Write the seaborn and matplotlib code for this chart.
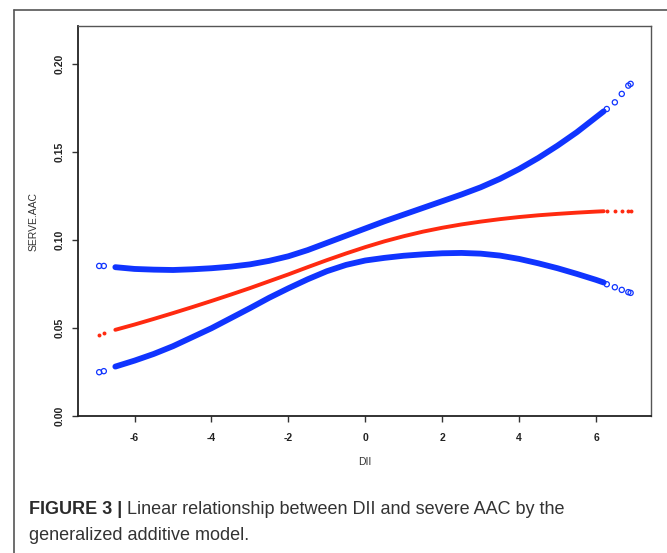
"""GAM fit of severe AAC against DII, with confidence band"""
import matplotlib
matplotlib.use("Agg")
import matplotlib.pyplot as plt
import pandas as pd
import seaborn as sns
from matplotlib.lines import Line2D

# values (dense part of the curves)
dii_band = [-6.5, -6.0, -5.5, -5.0, -4.5, -4.0, -3.5, -3.0, -2.5, -2.0, -1.5,
            -1.0, -0.5, 0.0, 0.5, 1.0, 1.5, 2.0, 2.5, 3.0, 3.5, 4.0, 4.5, 5.0,
            5.5, 6.0, 6.2]
fit_band = [0.0490, 0.0520, 0.0552, 0.0585, 0.0619, 0.0654, 0.0690, 0.0727,
            0.0766, 0.0805, 0.0846, 0.0886, 0.0924, 0.0960, 0.0993, 0.1022,
            0.1048, 0.1070, 0.1089, 0.1105, 0.1119, 0.1131, 0.1141, 0.1149,
            0.1156, 0.1162, 0.1164]
upper_band = [0.0846, 0.0836, 0.0832, 0.0830, 0.0834, 0.0840, 0.0849, 0.0862,
              0.0882, 0.0908, 0.0943, 0.0984, 0.1025, 0.1066, 0.1107, 0.1145,
              0.1183, 0.1221, 0.1259, 0.1300, 0.1348, 0.1404, 0.1467, 0.1537,
              0.1613, 0.1698, 0.1732]
lower_band = [0.0281, 0.0315, 0.0353, 0.0397, 0.0448, 0.0499, 0.0556, 0.0613,
              0.0672, 0.0726, 0.0777, 0.0823, 0.0859, 0.0884, 0.0899, 0.0911,
              0.0919, 0.0925, 0.0927, 0.0923, 0.0912, 0.0893, 0.0868, 0.0840,
              0.0808, 0.0774, 0.0759]

# sparse observations at both ends
dii_tail = [-6.92, -6.80, 6.28, 6.49, 6.67, 6.84, 6.90]
fit_tail = [0.0463, 0.0471, 0.1165, 0.1166, 0.1167, 0.1168, 0.1168]
upper_tail = [0.0853, 0.0853, 0.1745, 0.1783, 0.1831, 0.1878, 0.1888]
lower_tail = [0.0249, 0.0255, 0.0749, 0.0732, 0.0717, 0.0704, 0.0700]

x_ticks = [-6, -4, -2, 0, 2, 4, 6]
y_ticks = [0.00, 0.05, 0.10, 0.15, 0.20]

BLUE = "#1034ff"
RED = "#ff2a10"

band = pd.DataFrame({"DII": dii_band, "fit": fit_band,
                     "upper": upper_band, "lower": lower_band})
tail = pd.DataFrame({"DII": dii_tail, "fit": fit_tail,
                     "upper": upper_tail, "lower": lower_tail})

sns.set_style("white")
plt.rcParams["font.family"] = ["Liberation Sans", "DejaVu Sans"]

fig = plt.figure(figsize=(6.67, 5.53), dpi=100)
ax = fig.add_axes([0.117, 0.2477, 0.859, 0.705])

for col in ["upper", "lower"]:
    sns.lineplot(data=band, x="DII", y=col, ax=ax, color=BLUE, lw=4.2,
                 solid_capstyle="round")
    sns.scatterplot(data=tail, x="DII", y=col, ax=ax, s=14, marker="o",
                    facecolor="none", edgecolor=BLUE, linewidth=0.9)
sns.lineplot(data=band, x="DII", y="fit", ax=ax, color=RED, lw=2.8,
             solid_capstyle="round")
sns.scatterplot(data=tail, x="DII", y="fit", ax=ax, s=8, color=RED,
                linewidth=0)

ax.set_xlim(-7.47, 7.43)
ax.set_ylim(0, 0.2216)
ax.set_xticks(x_ticks)
ax.set_xticklabels([str(v) for v in x_ticks], fontsize=7.5, fontweight="bold",
                   color="#222222")
ax.set_yticks(y_ticks)
ax.set_yticklabels([f"{v:.2f}" for v in y_ticks], fontsize=7.5,
                   fontweight="bold", rotation=90, va="center",
                   color="#222222")
ax.tick_params(axis="x", bottom=True, length=4.5, width=1, color="#333333",
               pad=7.5)
ax.tick_params(axis="y", left=True, length=4.5, width=1, color="#333333",
               pad=5)
ax.set_xlabel("DII", fontsize=7.5, color="#333333", labelpad=10)
ax.set_ylabel("SERVE.AAC", fontsize=7.5, color="#333333", labelpad=12)
for side, sp in ax.spines.items():
    sp.set_visible(True)
    sp.set_color("#222222" if side in ("left", "bottom") else "#555555")
    sp.set_linewidth(1.3 if side in ("left", "bottom") else 1.0)

# page frame around figure and caption
fig.add_artist(Line2D([14 / 667, 14 / 667], [0, 1 - 10 / 553],
                      color="#555555", lw=1.2))
fig.add_artist(Line2D([14 / 667, 1], [1 - 10 / 553, 1 - 10 / 553],
                      color="#555555", lw=1.2))

cap1 = fig.text(29 / 667, 1 - 510 / 553, "FIGURE 3 | ", fontsize=13,
                fontweight="bold", color="#2b2b2b", va="center")
fig.canvas.draw()
bb = cap1.get_window_extent(fig.canvas.get_renderer())
fig.text(bb.x1 / fig.bbox.width, 1 - 510 / 553,
         "Linear relationship between DII and severe AAC by the",
         fontsize=13, color="#333333", va="center")
fig.text(29 / 667, 1 - 536 / 553, "generalized additive model.",
         fontsize=13, color="#333333", va="center")

fig.savefig("out.png", dpi=100)
